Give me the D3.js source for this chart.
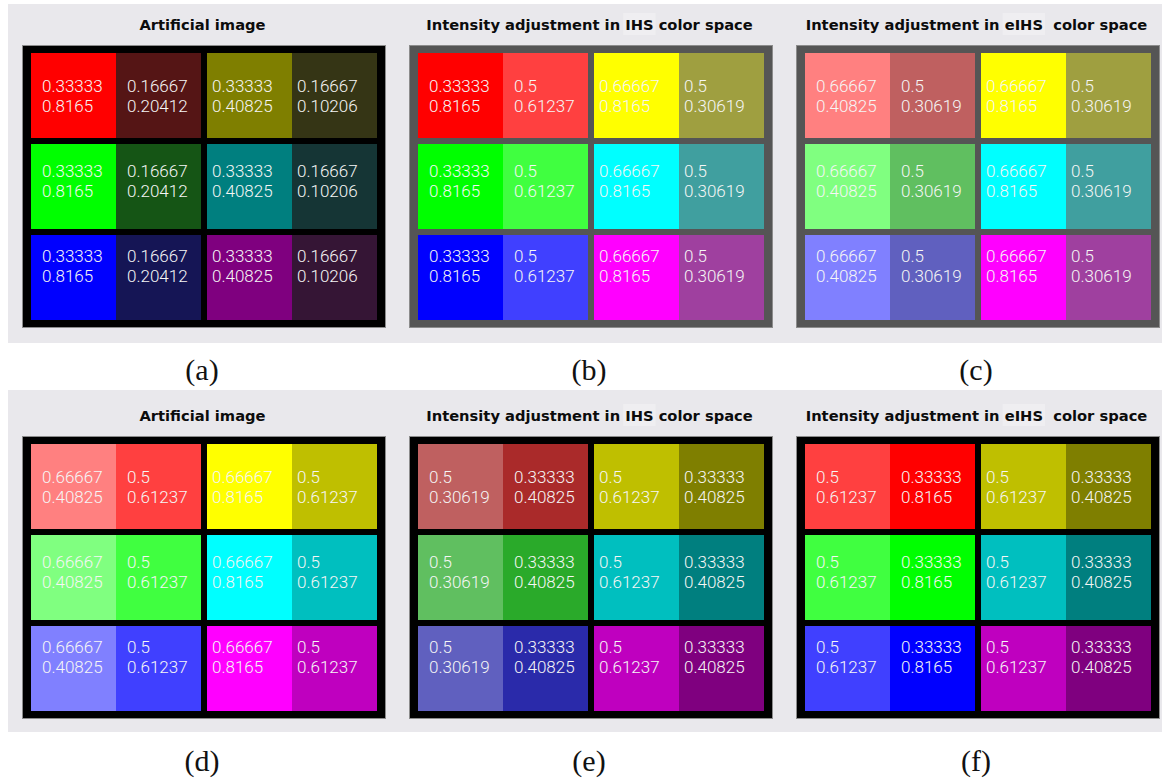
<!DOCTYPE html>
<html>
<head>
<meta charset="utf-8">
<script src="https://cdn.jsdelivr.net/npm/d3@7"></script>
<style>
  html, body { margin: 0; padding: 0; background: #ffffff; }
  svg { display: block; }
  .title { font-family: "DejaVu Sans", sans-serif; font-weight: bold; font-size: 14.7px; fill: #0c0c0c; white-space: pre; }
  .val { font-family: Roboto, "Liberation Sans", sans-serif; font-weight: 300; font-size: 17px; fill: #f6f6f6; }
  .caption { font-family: "Liberation Serif", "DejaVu Serif", serif; font-size: 30px; fill: #111; }
</style>
</head>
<body>
<svg id="fig" width="1164" height="778"></svg>
<script>
// Six panels: three before/after pairs of a 3x2 grid of colour blocks.
// Each block holds a primary-hue pair (red/green/blue) or a secondary-hue pair
// (yellow/cyan/magenta); every cell is labelled with its intensity and saturation.

const panelLetters = ["(a)", "(b)", "(c)", "(d)", "(e)", "(f)"];
const titleHead = ["Artificial image", "Intensity adjustment in ", "Intensity adjustment in ",
                   "Artificial image", "Intensity adjustment in ", "Intensity adjustment in "];
const titleSpace = ["", "IHS", "eIHS", "", "IHS", "eIHS"];
const titleTail = ["", " color space", "  color space", "", " color space", "  color space"];

// hue of the left and right block in each grid row
const rowHues = [["red", "yellow"], ["green", "cyan"], ["blue", "magenta"]];

// per panel: [left cell, right cell] values inside a primary-hue block
const intensityPrimary = [
  [0.33333, 0.16667], [0.33333, 0.5], [0.66667, 0.5],
  [0.66667, 0.5], [0.5, 0.33333], [0.5, 0.33333]
];
const saturationPrimary = [
  [0.8165, 0.20412], [0.8165, 0.61237], [0.40825, 0.30619],
  [0.40825, 0.61237], [0.30619, 0.40825], [0.61237, 0.8165]
];
// per panel: [left cell, right cell] values inside a secondary-hue block
const intensitySecondary = [
  [0.33333, 0.16667], [0.66667, 0.5], [0.66667, 0.5],
  [0.66667, 0.5], [0.5, 0.33333], [0.5, 0.33333]
];
const saturationSecondary = [
  [0.40825, 0.10206], [0.8165, 0.30619], [0.8165, 0.30619],
  [0.8165, 0.61237], [0.61237, 0.40825], [0.61237, 0.40825]
];

// fully saturated reference colour of each hue, used only for its hue direction
const hueRGB = {
  red: [1, 0, 0], yellow: [1, 1, 0], green: [0, 1, 0],
  cyan: [0, 1, 1], blue: [0, 0, 1], magenta: [1, 0, 1]
};

// linear IHS transform: I = mean, v1/v2 are the chromatic axes
const S6 = Math.sqrt(6), S2 = Math.sqrt(2);
function toV(rgb) {
  const [r, g, b] = rgb;
  return [(-r - g + 2 * b) / S6, (r - g) / S2];
}
function ihsColor(hue, I, S) {
  const [a, b] = toV(hueRGB[hue]);
  const len = Math.hypot(a, b);
  const v1 = S * a / len, v2 = S * b / len;
  const clamp = x => Math.max(0, Math.min(1, x));
  const R = I - v1 / S6 + v2 / S2;
  const G = I - v1 / S6 - v2 / S2;
  const B = I + 2 * v1 / S6;
  return d3.rgb(clamp(R) * 255, clamp(G) * 255, clamp(B) * 255).formatHex();
}

const fmt = d3.format(".5~g");
const svg = d3.select("#fig");

// light grey strips behind each row of panels
svg.append("rect").attr("x", 8).attr("y", 4).attr("width", 1154).attr("height", 339).attr("fill", "#e9e8ec");
svg.append("rect").attr("x", 8).attr("y", 390).attr("width", 1154).attr("height", 342).attr("fill", "#e9e8ec");

// panel placement
const panelCol = d3.scaleBand().domain([0, 1, 2]).range([23, 1159]).paddingInner(25 / 387);
const panelRow = d3.scaleBand().domain([0, 1]).range([46, 718]).paddingInner(110 / 391);
// inside a panel
const blockX = d3.scaleBand().domain([0, 1]).range([8, 354]).paddingInner(0.034);
const blockY = d3.scaleBand().domain([0, 1, 2]).range([7, 274]).paddingInner(0.06);
const cellX = d3.scaleBand().domain([0, 1]).range([0, blockX.bandwidth()]);
// label grid
const textX = d3.scaleLinear().domain([0, 3]).range([19, 274]);
const textY = d3.scaleLinear().domain([0, 2]).range([45.7, 215.7]);

const frameFill = ["#000000", "#555555", "#555555", "#000000", "#000000", "#000000"];

panelLetters.forEach((letter, p) => {
  const fx = panelCol(p % 3), fy = panelRow(Math.floor(p / 3));
  const fw = panelCol.bandwidth(), fh = panelRow.bandwidth();
  const g = svg.append("g").attr("transform", `translate(${fx},${fy})`);

  // title with the colour-space name on a faint highlight
  const title = g.append("text").attr("class", "title")
    .attr("x", fw / 2 - 1.5).attr("y", -16).attr("text-anchor", "middle");
  title.append("tspan").text(titleHead[p]);
  const hl = title.append("tspan").text(titleSpace[p]);
  title.append("tspan").text(titleTail[p]);
  if (titleSpace[p]) {
    const bb = hl.node().getBBox();
    g.insert("rect", "text")
      .attr("x", bb.x - 2).attr("y", -33).attr("width", bb.width + 4).attr("height", 22)
      .attr("fill", "#efeef1");
  }

  g.append("rect").attr("x", -0.5).attr("y", -0.5).attr("width", fw + 1).attr("height", fh + 1)
    .attr("fill", frameFill[p]).attr("stroke", "#8c8c8c").attr("stroke-width", 1);

  const cells = [];
  rowHues.forEach((pair, r) => {
    pair.forEach((hue, b) => {
      const Is = b === 0 ? intensityPrimary[p] : intensitySecondary[p];
      const Ss = b === 0 ? saturationPrimary[p] : saturationSecondary[p];
      [0, 1].forEach(c => cells.push({ r, b, c, hue, I: Is[c], S: Ss[c] }));
    });
  });

  g.selectAll("rect.cell").data(cells).enter().append("rect")
    .attr("class", "cell")
    .attr("x", d => blockX(d.b) + cellX(d.c))
    .attr("y", d => blockY(d.r))
    .attr("width", cellX.bandwidth())
    .attr("height", blockY.bandwidth())
    .attr("fill", d => ihsColor(d.hue, d.I, d.S))
    .attr("shape-rendering", "crispEdges");

  const labels = g.selectAll("text.val").data(cells).enter().append("text")
    .attr("class", "val")
    .attr("x", d => textX(d.b * 2 + d.c))
    .attr("y", d => textY(d.r));
  labels.append("tspan").attr("x", d => textX(d.b * 2 + d.c)).text(d => fmt(d.I));
  labels.append("tspan").attr("x", d => textX(d.b * 2 + d.c)).attr("dy", 20).text(d => fmt(d.S));

  g.append("text").attr("class", "caption")
    .attr("x", fw / 2 - 2).attr("y", 334).attr("text-anchor", "middle").text(letter);
});
</script>
</body>
</html>
